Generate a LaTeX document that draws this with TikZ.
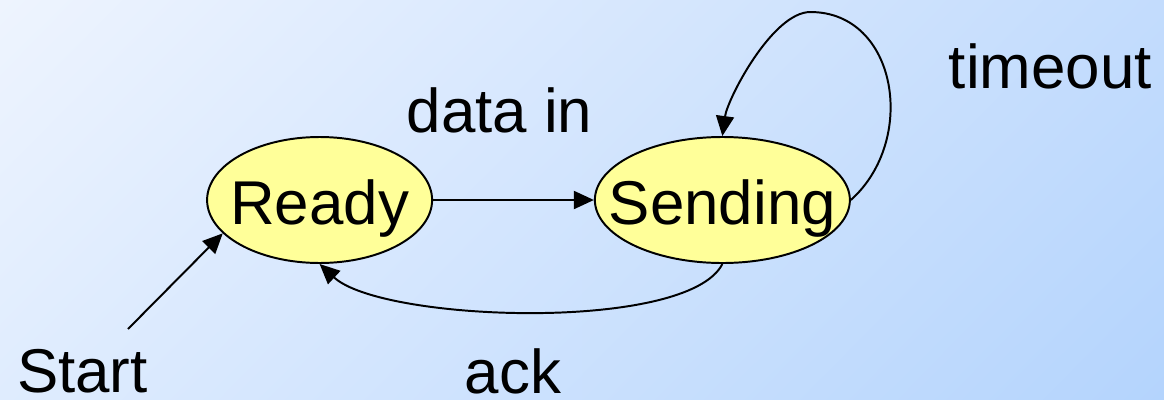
\documentclass[tikz,border=0pt]{standalone}
\usepackage{fontspec}
\setmainfont{Liberation Sans}
\usetikzlibrary{arrows.meta, positioning, shapes.geometric, shadings}

\definecolor{statefill}{RGB}{255,255,153}
\definecolor{bgtl}{RGB}{238,244,254}
\definecolor{bgtr}{RGB}{195,220,253}
\definecolor{bgbl}{RGB}{223,236,254}
\definecolor{bgbr}{RGB}{180,212,253}

\newcommand{\bigfont}{\fontsize{44}{53}\selectfont}
\newcommand{\statetext}[1]{\raisebox{-0.61cm}[0pt][0pt]{\makebox[0pt]{#1}}}

\begin{document}
\begin{tikzpicture}[
      state/.style={ellipse, draw=black, line width=1.4pt, fill=statefill, inner sep=0pt, minimum height=3.15cm, font=\bigfont},
      lbl/.style={font=\bigfont, inner sep=0pt, anchor=base},
      arrow/.style={-{Triangle[length=0.5cm, width=0.45cm]}, line width=1.4pt, draw=black}
    ]

      % Background with diagonal gradient
      \shade[upper left=bgtl, upper right=bgtr, lower left=bgbl, lower right=bgbr] (0,0) rectangle (29.1,9.975);
      \useasboundingbox (0,0) rectangle (29.1,9.975);

      % States
      \node[state, minimum width=5.625cm] (ready) at (7.99, 4.975) {\statetext{Ready}};
      \node[state, minimum width=6.375cm, right=4.02cm of ready] (sending) {\statetext{Sending}};

      % Transition labels
      \node[lbl] (datain) at (12.49, 6.675) {data in};
      \node[lbl] (timeout) at (26.26, 7.775) {timeout};
      \node[lbl] (start) at (2.06, 0.175) {Start};
      \node[lbl] (ack) at (12.825, 0.15) {ack};

      % Free end of the start arrow and top of the self loop
      \coordinate (start_tail) at (3.2, 1.75);
      \coordinate (loop_top) at ([shift={(2.2, 3.1)}]sending.north);

      % Arrows
      \draw[arrow] (start_tail) -- (ready.199);
      \draw[arrow] (ready) -- (sending);

      % Self loop on Sending: out of east side, back into the top
      \draw[arrow] (sending.east) .. controls +(1.675, 1.5) and +(2.175, 0) .. (loop_top)
                   .. controls +(-0.95, 0) and +(0.125, 0.925) .. (sending.north);

      % ack: from bottom of Sending back to bottom of Ready
      \draw[arrow] (sending.south) .. controls +(-0.87, -1.715) and +(1.56, -1.45) .. (ready.south);

    \end{tikzpicture}
\end{document}
